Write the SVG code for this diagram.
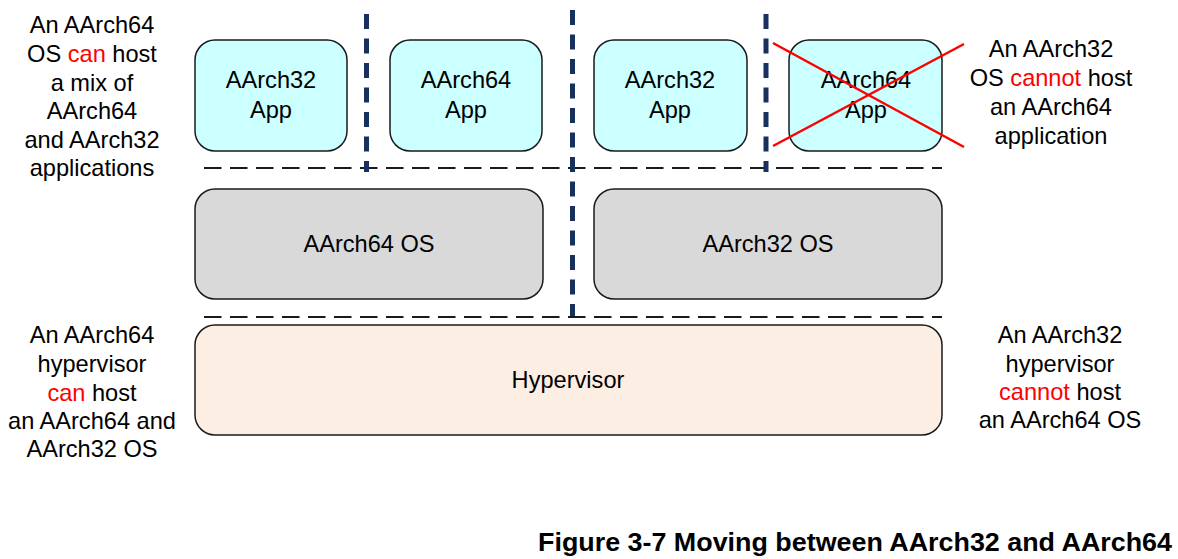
<svg xmlns="http://www.w3.org/2000/svg" width="1178" height="559" viewBox="0 0 1178 559">
<style>
text{font-family:"Liberation Sans",Arial,sans-serif;font-size:23.6px;fill:#000;text-anchor:middle}
.r{fill:#ff0000}
.box{stroke:#1a1a1a;stroke-width:1.5}
.app{fill:#ccffff}
.os{fill:#d9d9d9}
.hyp{fill:#fdeee4}
.hd{stroke:#1a1a1a;stroke-width:2.2;stroke-dasharray:17.5 8.5;fill:none}
.vd{stroke:#17305e;stroke-width:5;stroke-dasharray:15 9.5;fill:none}
.cap{font-weight:bold;font-size:26px;text-anchor:start}
</style>
<rect width="1178" height="559" fill="#fff"/>
<g id="connectors">
<line class="hd" x1="204" y1="168" x2="942" y2="168"/>
<line class="hd" x1="204" y1="317" x2="942" y2="317"/>
<line class="vd" x1="366.5" y1="14" x2="366.5" y2="172"/>
<line class="vd" x1="572.5" y1="10" x2="572.5" y2="316"/>
<line class="vd" x1="766" y1="14" x2="766" y2="172"/>
</g>
<g id="app1">
<rect class="box app" x="195" y="40" width="152" height="111" rx="20"/>
<text x="271" y="88">AArch32</text>
<text x="271" y="118">App</text>
</g>
<g id="app2">
<rect class="box app" x="390" y="40" width="152" height="111" rx="20"/>
<text x="466" y="88">AArch64</text>
<text x="466" y="118">App</text>
</g>
<g id="app3">
<rect class="box app" x="594" y="40" width="153" height="111" rx="20"/>
<text x="670" y="88">AArch32</text>
<text x="670" y="118">App</text>
</g>
<g id="app4">
<rect class="box app" x="789" y="40" width="153" height="111" rx="20"/>
<text x="866" y="88">AArch64</text>
<text x="866" y="118">App</text>
<line x1="773" y1="43" x2="964" y2="147" stroke="#ff0000" stroke-width="2.5"/>
<line x1="773" y1="146" x2="964" y2="44" stroke="#ff0000" stroke-width="2.5"/>
</g>
<g id="os64">
<rect class="box os" x="195" y="189" width="348" height="110" rx="20"/>
<text x="369" y="252">AArch64 OS</text>
</g>
<g id="os32">
<rect class="box os" x="594" y="189" width="348" height="110" rx="20"/>
<text x="768" y="252">AArch32 OS</text>
</g>
<g id="hypervisor">
<rect class="box hyp" x="195" y="325" width="747" height="110" rx="20"/>
<text x="568" y="388">Hypervisor</text>
</g>
<g id="note-tl">
<text x="92" y="33">An AArch64</text>
<text x="92" y="62">OS <tspan class="r">can</tspan> host</text>
<text x="92" y="91">a mix of</text>
<text x="92" y="119">AArch64</text>
<text x="92" y="148">and AArch32</text>
<text x="92" y="176">applications</text>
</g>
<g id="note-tr">
<text x="1051" y="57">An AArch32</text>
<text x="1051" y="86"><tspan>OS </tspan><tspan class="r">cannot</tspan><tspan> host</tspan></text>
<text x="1051" y="115">an AArch64</text>
<text x="1051" y="144">application</text>
</g>
<g id="note-bl">
<text x="92" y="343">An AArch64</text>
<text x="92" y="372">hypervisor</text>
<text x="92" y="401"><tspan class="r">can</tspan> host</text>
<text x="92" y="429">an AArch64 and</text>
<text x="92" y="457">AArch32 OS</text>
</g>
<g id="note-br">
<text x="1060" y="343">An AArch32</text>
<text x="1060" y="372">hypervisor</text>
<text x="1060" y="400"><tspan class="r">cannot</tspan> host</text>
<text x="1060" y="428">an AArch64 OS</text>
</g>
<g id="caption">
<text class="cap" x="538" y="551" textLength="634" lengthAdjust="spacingAndGlyphs">Figure 3-7 Moving between AArch32 and AArch64</text>
</g>
</svg>
